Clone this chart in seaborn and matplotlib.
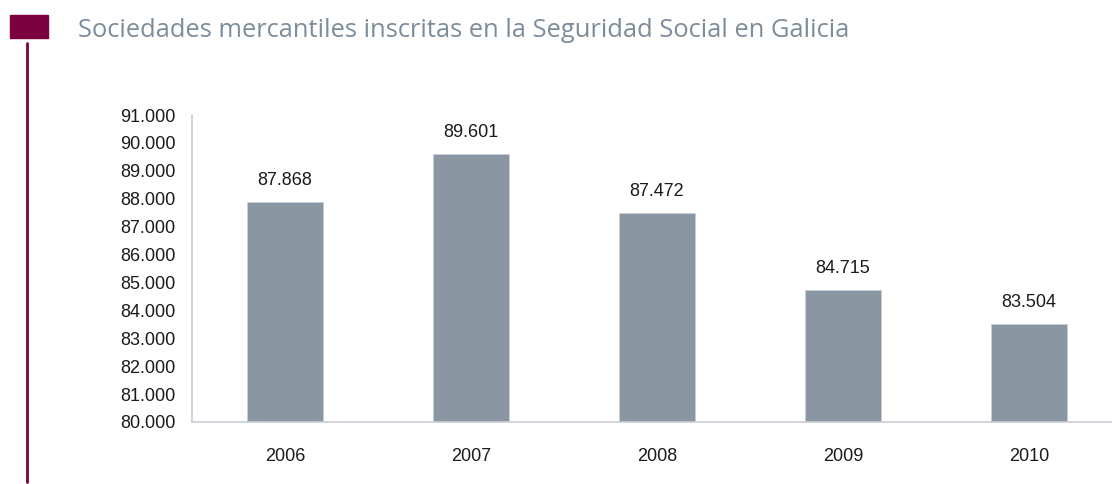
import pandas as pd
import numpy as np
import matplotlib
matplotlib.use("Agg")
import matplotlib.pyplot as plt
import seaborn as sns
from matplotlib.patches import Rectangle
from matplotlib.lines import Line2D

years = ["2006", "2007", "2008", "2009", "2010"]
sociedades = [87868, 89601, 87472, 84715, 83504]
yticks = list(range(80000, 91001, 1000))

def fmt(v):
    return f"{v:,}".replace(",", ".")

sns.set_style("white")
plt.rcParams['font.family'] = ['Liberation Sans', 'DejaVu Sans']

df = pd.DataFrame({"year": years, "value": sociedades})

fig = plt.figure(figsize=(11.12, 4.84), dpi=100)
# axes spans past the right edge like in the original
ax = fig.add_axes([192 / 1112, (484 - 422) / 484, 930 / 1112, 307 / 484])

sns.barplot(data=df, x="year", y="value", color="#8a97a3", saturation=1,
            width=0.41, edgecolor="#c9ced6", linewidth=0.6, ax=ax)

ax.set_ylim(80000, 91000)
ax.set_xlim(-0.5, 4.5)
ax.set_yticks(yticks)
ax.set_yticklabels([fmt(t) for t in yticks])
ax.set_xlabel("")
ax.set_ylabel("")

for i, v in enumerate(sociedades):
    ax.annotate(fmt(v), (i, v), xytext=(0, 15.5), textcoords="offset points",
                ha="center", va="center", fontsize=13, color="#1a1a1a")

spine_col = "#c9ced6"
for s in ["top", "right"]:
    ax.spines[s].set_visible(False)
for s in ["left", "bottom"]:
    ax.spines[s].set_color(spine_col)
    ax.spines[s].set_linewidth(1.2)

ax.tick_params(axis="y", length=5, width=1, color=spine_col, pad=7,
               labelsize=13, labelcolor="#1a1a1a")
ax.tick_params(axis="x", which="major", length=0, pad=19,
               labelsize=13, labelcolor="#1a1a1a")
ax.set_xticks(np.arange(0.5, 4.5, 1), minor=True)
ax.tick_params(axis="x", which="minor", length=5, width=1, color=spine_col)

# decoration: maroon square and vertical rule
fig.patches.append(Rectangle((10 / 1112, 1 - 38 / 484), 38 / 1112, 23 / 484,
                             transform=fig.transFigure, color="#7b0040"))
fig.lines.append(Line2D([27 / 1112, 27 / 1112], [1 - 43 / 484, 1 - 482 / 484],
                        transform=fig.transFigure, color="#7b0040", lw=2))

fig.text(78 / 1112, 1 - 37 / 484, "Sociedades mercantiles inscritas en la Seguridad Social en Galicia",
         fontsize=18.4, color="#7d8c9b", va="baseline", ha="left",
         family=["Open Sans", "DejaVu Sans"])

fig.savefig("out.png", dpi=100)
